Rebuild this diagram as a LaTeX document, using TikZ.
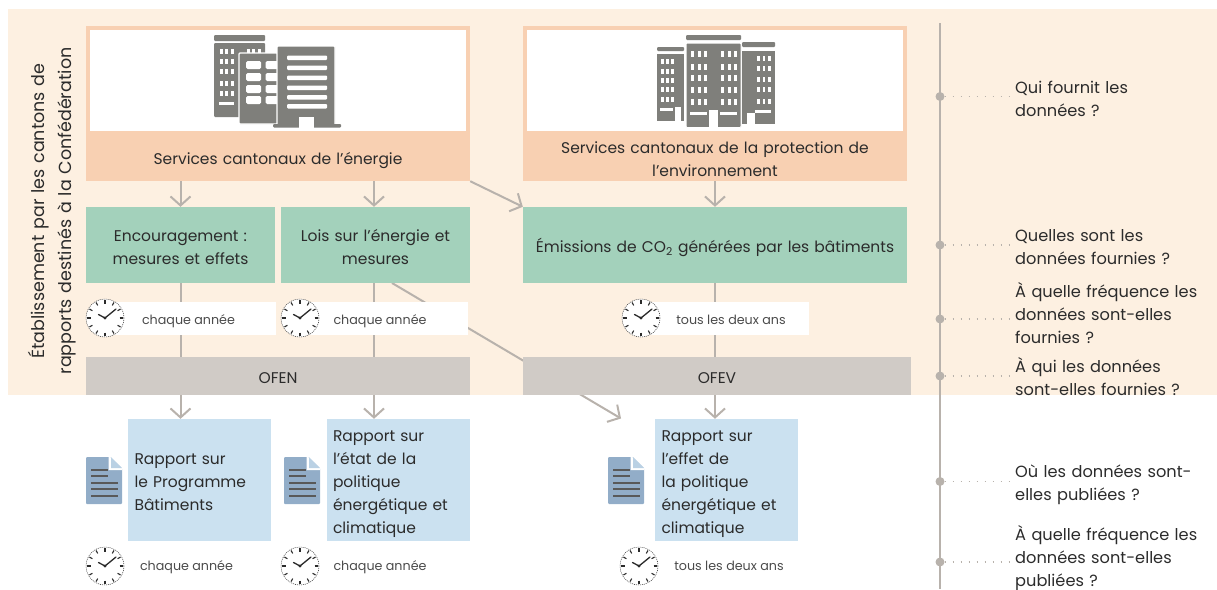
\documentclass[tikz,border=0pt]{standalone}
\usepackage{fontspec}
\setmainfont{Poppins}
\usetikzlibrary{arrows.meta}
\definecolor{tanbg}{HTML}{FDF0E1}
\definecolor{peach}{HTML}{F8D0B2}
\definecolor{mint}{HTML}{A3D1BB}
\definecolor{stone}{HTML}{D0CBC6}
\definecolor{sky}{HTML}{CBE1F0}
\definecolor{linkgrey}{HTML}{B8B2AC}
\definecolor{bldgrey}{HTML}{7F7F7B}
\definecolor{docblue}{HTML}{92ADC8}
\definecolor{inktext}{HTML}{2B2B2B}
\pgfdeclarelayer{back}
\pgfdeclarelayer{links}
\pgfsetlayers{back,links,main}
\tikzset{
	struts/.style={execute at begin node=\rule{0pt}{#1pt},execute at end node=\rule[-5pt]{0pt}{5pt}},
	box/.style={inner sep=0pt,align=center,text=inktext,struts=20,font=\fontsize{15.5}{23}\selectfont},
	svcbox/.style={box,fill=peach,minimum width=384pt,text width=384pt,minimum height=48pt},
	panel/.style={fill=white,draw=peach,line width=4pt,inner sep=0pt,minimum width=380pt,minimum height=105pt},
	greenbox/.style={box,fill=mint,minimum width=#1,text width=#1,minimum height=76pt},
	greybox/.style={box,fill=stone,minimum height=38pt},
	bluebox/.style={box,fill=sky,align=left,minimum height=122pt,minimum width=143pt,text width=130pt},
	whitebar/.style={fill=white,inner sep=0pt,minimum height=33pt},
	freqlabel/.style={inner sep=0pt,text=inktext!85,struts=17,font=\fontsize{12.7}{16}\selectfont},
	question/.style={anchor=west,inner sep=0pt,align=left,text width=200pt,text=inktext,struts=19,font=\fontsize{16.2}{23}\selectfont},
	qdot/.style={circle,fill=linkgrey,inner sep=0pt,minimum size=9pt},
	link/.style={draw=linkgrey,line width=2pt,-{Straight Barb[length=9pt,width=20pt,line width=2pt]}},
	linkplain/.style={draw=linkgrey,line width=2pt},
	dotlink/.style={draw=linkgrey,line width=1.4pt,dash pattern=on 1.4pt off 6.6pt},
	clockicon/.pic={
		\fill[white] (0,0) circle (19);
		\draw[inktext,line width=.5pt,dash pattern=on 1pt off 1pt] (0,0) circle (19);
		\foreach \a in {0,30,...,330}
			\draw[inktext,line width=1.1pt] (\a:14.5) -- (\a:18);
		\draw[inktext,line width=1.3pt,line cap=round] (-6.5,-3.5) -- (0,0) -- (11,-9);
		\fill[inktext] (0,0) circle (1.6);
	},
	docicon/.pic={
		\fill[docblue,rounded corners=1pt] (0,0) -- (24,0) -- (36,11) -- (36,47) -- (0,47) -- cycle;
		\fill[white] (24,0) -- (36,11) -- (36,13) -- (22.5,13) -- (22.5,0) -- cycle;
		\fill[sky!70!docblue] (25,0) -- (36,11) -- (25,11) -- cycle;
		\foreach \y/\w in {13/17,19/17,26/27,32/27,39/27}
			\draw[black!65,line width=2pt] (5,\y) -- ++(\w,0);
	},
	officeicon/.pic={
		\fill[bldgrey,rounded corners=1pt] (214,35) rectangle (265,41);
		\fill[bldgrey,rounded corners=1pt] (214,43) rectangle (265,117);
		\foreach \y in {51,61,71,83,93}
			\foreach \x in {220,225,231}
				\fill[white] (\x,\y-2.5) rectangle ++(2.6,5);
		\foreach \x in {247,252,258}
			\fill[white] (\x,49) rectangle ++(2.6,4);
		\fill[white] (219,101.5) rectangle (234,105);
		\filldraw[bldgrey,draw=white,line width=1.2pt,rounded corners=1pt] (239,53) rectangle (278,124);
		\foreach \y in {65,77,89,100}
			\foreach \x in {246,265.5}
				\fill[white,rounded corners=1.5pt] (\x,\y-4) rectangle ++(15,8);
		\filldraw[bldgrey,draw=white,line width=1.2pt,rounded corners=1pt] (277,46) rectangle (335,126);
		\fill[bldgrey,rounded corners=1pt] (273,124) rectangle (341,127.5);
		\foreach \y in {57.5,67.5,77.5,87.5,97,106}
			\fill[white,rounded corners=1pt] (287,\y-2) rectangle (327,\y+2.5);
		\fill[white] (299,117) rectangle (314,128);
	},
	towericon/.pic={
		\fill[bldgrey,rounded corners=1pt] (657,47) rectangle (684,51);
		\fill[bldgrey] (657,54) rectangle (684,121);
		\foreach \y in {61,71,80,89,99}
			\foreach \x in {661,666,671}
				\fill[white] (\x,\y-2.5) rectangle ++(2.6,5);
		\fill[white] (660,107.5) rectangle (673,110.5);
		\fill[white] (675,107) rectangle (681,122);
		\fill[bldgrey,rounded corners=1pt] (742,42) rectangle (775,47);
		\fill[bldgrey] (742,51) rectangle (775,124);
		\foreach \y in {58,68,79,89,101}
			\foreach \x in {757,762.5,768}
				\fill[white] (\x,\y-2.5) rectangle ++(2.6,5);
		\fill[white] (755,109.5) rectangle (771,112.5);
		\fill[white] (747,113) rectangle (755,125);
		\fill[bldgrey,rounded corners=1pt] (686,35) rectangle (741,40);
		\filldraw[bldgrey,draw=white,line width=1pt,rounded corners=1pt] (686,43) rectangle (741,127.5);
		\foreach \y in {53,66,77,89,101}
			\foreach \x in {691,698,704,721,728,734}
				\fill[white] (\x,\y-2.5) rectangle ++(2.8,6);
		\fill[white] (690,111.5) rectangle (707,114.5);
		\fill[white] (720,111.5) rectangle (737,114.5);
		\fill[white] (709,110) rectangle (718,128);
	}
}
\begin{document}
\begin{tikzpicture}[x=1pt,y=-1pt]
	\useasboundingbox (0,0) rectangle (1217,589);
	\begin{pgfonlayer}{back}
		\fill[tanbg] (8,9) rectangle (1217,395);
	\end{pgfonlayer}

	\node[rotate=90,align=center,text width=345pt,inner sep=0pt,text=inktext,struts=20,font=\fontsize{17.5}{27}\selectfont] (title) at (50,211) {Établissement par les cantons de\\rapports destinés à la Confédération};

	\node[panel] (panelnrg) at (278,80) {};
	\node[panel] (panelenv) at (715,80) {};
	\node[svcbox] (svcnrg) at (278,157) {Services cantonaux de l’énergie};
	\node[svcbox] (svcenv) at (715,157) {Services cantonaux de la protection de\\l’environnement};
	\pic (office) at (0,0) {officeicon};
	\pic (tower) at (0,0) {towericon};

	\node[greenbox=189pt] (enc) at (180.5,245) {Encouragement :\\mesures et effets};
	\node[greenbox=189pt] (law) at (375.5,245) {Lois sur l’énergie et\\mesures};
	\node[greenbox=384pt] (emi) at (715,245) {Émissions de CO\textsubscript{2} générées par les bâtiments};

	\node[whitebar,minimum width=171pt] (barenc) at (190.5,318.5) {};
	\node[whitebar,minimum width=168pt] (barlaw) at (384,318.5) {};
	\node[whitebar,minimum width=169pt] (baremi) at (724.5,318.5) {};

	\pic (ck1) at (105,318) {clockicon};
	\pic (ck2) at (300,318) {clockicon};
	\pic (ck3) at (641,318) {clockicon};
	\pic (ck4) at (105,566) {clockicon};
	\pic (ck5) at (300,566) {clockicon};
	\pic (ck6) at (639,566) {clockicon};

	\node[freqlabel] (f1) at (188.5,318.5) {chaque année};
	\node[freqlabel] (f2) at (380,318.5) {chaque année};
	\node[freqlabel] (f3) at (731,318.5) {tous les deux ans};
	\node[freqlabel] (f4) at (186.5,564) {chaque année};
	\node[freqlabel] (f5) at (380,564) {chaque année};
	\node[freqlabel] (f6) at (729,564) {tous les deux ans};

	\node[greybox,minimum width=384pt] (ofen) at (278,376) {OFEN};
	\node[greybox,minimum width=388pt] (ofev) at (717,376) {OFEV};

	\node[bluebox] (repbat) at (199.5,480) {Rapport sur\\le Programme\\Bâtiments};
	\node[bluebox] (repeta) at (398,480) {Rapport sur\\l’état de la\\politique\\énergétique et\\climatique};
	\node[bluebox] (repeff) at (726.5,480) {Rapport sur\\l’effet de\\la politique\\énergétique et\\climatique};

	\pic (doc1) at (86,457) {docicon};
	\pic (doc2) at (284,457) {docicon};
	\pic (doc3) at (608,457) {docicon};

	\coordinate (lawcol) at (374,0);
	\coordinate (lawexit) at (392,283);
	\coordinate (effentry) at (621,418.5);
	\begin{pgfonlayer}{links}
		\draw[link] (enc.north |- svcnrg.south) -- (enc.north);
		\draw[link] (lawcol |- svcnrg.south) -- (lawcol |- law.north);
		\draw[link] (svcnrg.south east) -- (emi.north west);
		\draw[link] (svcenv.south) -- (emi.north);
		\draw[linkplain] (enc.south) -- (enc.south |- ofen.north);
		\draw[linkplain] (lawcol |- law.south) -- (lawcol |- ofen.north);
		\draw[linkplain] (emi.south) -- (emi.south |- ofev.north);
		\draw[link] (lawexit) -- (effentry);
		\draw[link] (enc.south |- ofen.south) -- (enc.south |- repbat.north);
		\draw[link] (lawcol |- ofen.south) -- (lawcol |- repeta.north);
		\draw[link] (emi.south |- ofev.south) -- (emi.south |- repeff.north);
	\end{pgfonlayer}

	\coordinate (axistop) at (940,23);
	\coordinate (axisend) at (940,589);
	\draw[linkplain] (axistop) -- (axisend);
	\node[qdot] (d1) at (940,96.5) {};
	\node[qdot] (d2) at (940,245) {};
	\node[qdot] (d3) at (940,319) {};
	\node[qdot] (d4) at (940,376) {};
	\node[qdot] (d5) at (940,481.5) {};
	\node[qdot] (d6) at (940,562) {};

	\node[question] (q1) at (1015,98) {Qui fournit les\\données ?};
	\node[question] (q2) at (1015,246) {Quelles sont les\\données fournies ?};
	\node[question] (q3) at (1015,313) {À quelle fréquence les\\données sont-elles\\fournies ?};
	\node[question] (q4) at (1015,377) {À qui les données\\sont-elles fournies ?};
	\node[question] (q5) at (1015,482) {Où les données sont-\\elles publiées ?};
	\node[question] (q6) at (1015,556.5) {À quelle fréquence les\\données sont-elles\\publiées ?};

	\foreach \i in {1,...,6}
		\draw[dotlink] (d\i) -- ++(72,0);
\end{tikzpicture}
\end{document}
